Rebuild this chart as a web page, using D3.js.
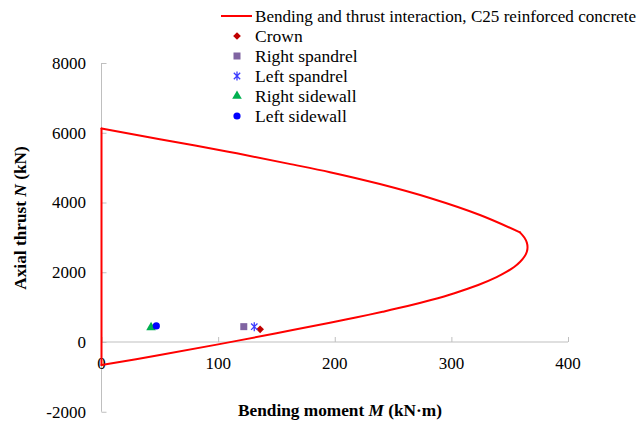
<!DOCTYPE html>
<html><head><meta charset="utf-8">
<script src="https://cdn.jsdelivr.net/npm/d3@7"></script>
<style>body{margin:0;background:#fff}svg{display:block}</style>
</head><body><svg id="c" width="640" height="425"></svg>
<script>
// Interaction curve (M in kN·m, N in kN): vertical leg, compression branch, nose + tension branch
const legM = [0, 0];
const legN = [-660, 6120];
const topM = [0, 50, 108.7, 160, 195.9, 238.7, 281.6, 324.5, 358.8];
const topN = [6120, 5815, 5457, 5115, 4870, 4530, 4130, 3642, 3145];
const botM = [358.8, 362.7, 364.7, 365.3, 364.7, 362.7, 359, 353.8, 347.5, 338.8, 323, 302.6, 282.5, 262.5, 241, 218, 195.9, 150, 100, 50, 0];
const botN = [3145, 2990, 2850, 2720, 2590, 2450, 2300, 2150, 2016, 1860, 1634, 1400, 1204, 1030, 866, 702, 553, 252, -68, -375, -660];
// Section points
const pointNames = ["Crown", "Right spandrel", "Left spandrel", "Right sidewall", "Left sidewall"];
const pointM = [136, 122, 131, 42.5, 47];
const pointN = [365, 440, 440, 420, 460];
const pointColors = ["#C00000", "#8064A2", "#3C3CFF", "#00B050", "#0000FF"];
const xTicks = [0, 100, 200, 300, 400];
const yTicks = [-2000, 0, 2000, 4000, 6000, 8000];
const lineLabel = "Bending and thrust interaction, C25 reinforced concrete";

const FONT = "Liberation Serif, Times New Roman, serif";
const svg = d3.select("#c");
const x = d3.scaleLinear().domain([0, 400]).range([101.5, 568]);
const y = d3.scaleLinear().domain([-2000, 8000]).range([411.75, 63]);
const axisColor = "#BFBFBF";

// Y axis
const gy = svg.append("g").attr("transform", `translate(${x(0)},0)`)
  .call(d3.axisRight(y).tickValues(yTicks).tickSize(5).tickFormat(""));
gy.selectAll("path,line").attr("stroke", axisColor);
gy.select(".domain").attr("d", `M0,${y(-2000)}V${y(8000)}`);
svg.append("g").selectAll("text").data(yTicks).join("text")
  .attr("font-family", FONT)
  .attr("x", 86).attr("y", d => y(d)).attr("dy", "0.35em").attr("text-anchor", "end")
  .attr("font-size", 17).attr("fill", "#000").text(d => d);

// X axis at N = 0
const gx = svg.append("g").attr("transform", `translate(0,${y(0)})`)
  .call(d3.axisTop(x).tickValues(xTicks).tickSize(5).tickFormat(""));
gx.selectAll("path,line").attr("stroke", axisColor);
gx.select(".domain").attr("d", `M${x(0)},0H${x(400)}`);
svg.append("g").selectAll("text").data(xTicks).join("text")
  .attr("font-family", FONT)
  .attr("x", d => x(d)).attr("y", y(0) + 27).attr("text-anchor", "middle")
  .attr("font-size", 17).attr("fill", "#000").text(d => d);

// Curve
const toPts = (ms, ns) => ms.map((m, i) => [m, ns[i]]);
const lineLin = d3.line().x(d => x(d[0])).y(d => y(d[1]));
const lineSmooth = d3.line().x(d => x(d[0])).y(d => y(d[1])).curve(d3.curveCatmullRom.alpha(0.5));
[[toPts(legM, legN), lineLin], [toPts(topM, topN), lineSmooth], [toPts(botM, botN), lineSmooth]].forEach(([pts, gen]) => {
  svg.append("path").datum(pts).attr("d", gen)
    .attr("fill", "none").attr("stroke", "#FF0000").attr("stroke-width", 2)
    .attr("stroke-linejoin", "round").attr("stroke-linecap", "round");
});

// Markers
function star(r) {
  const d = r * 0.7071;
  return `M0,${-r}V${r}M${-d},${-d}L${d},${d}M${-d},${d}L${d},${-d}`;
}
function marker(g, i, cx, cy) {
  const c = pointColors[i];
  const t = `translate(${cx},${cy})`;
  if (i === 0) g.append("path").attr("transform", t).attr("d", d3.symbol(d3.symbolDiamond2, 38)()).attr("fill", c);
  else if (i === 1) g.append("rect").attr("x", cx - 3.5).attr("y", cy - 3.5).attr("width", 7).attr("height", 7).attr("fill", c);
  else if (i === 2) g.append("path").attr("transform", t).attr("d", star(4.5)).attr("stroke", c).attr("stroke-width", 1.3).attr("fill", "none");
  else if (i === 3) g.append("path").attr("transform", t).attr("d", d3.symbol(d3.symbolTriangle, 40)()).attr("fill", c);
  else g.append("circle").attr("cx", cx).attr("cy", cy).attr("r", 3.6).attr("fill", c);
}
const gp = svg.append("g");
pointM.forEach((m, i) => marker(gp, i, x(m), y(pointN[i])));

// Legend
const lg = svg.append("g");
lg.append("line").attr("x1", 221).attr("x2", 252).attr("y1", 16).attr("y2", 16).attr("stroke", "#FF0000").attr("stroke-width", 2);
lg.append("text").attr("font-family", FONT).attr("x", 255).attr("y", 16).attr("dy", "0.35em").attr("font-size", 17)
  .attr("textLength", 381).attr("lengthAdjust", "spacingAndGlyphs").text(lineLabel);
pointNames.forEach((n, i) => {
  const yy = 36 + i * 20;
  marker(lg, i, 237, yy);
  lg.append("text").attr("font-family", FONT).attr("x", 255).attr("y", yy).attr("dy", "0.35em").attr("font-size", 17.5).text(n);
});

// Axis titles
const xt = svg.append("text").attr("font-family", FONT).attr("x", 340).attr("y", 416).attr("text-anchor", "middle")
  .attr("font-size", 17.3).attr("font-weight", "bold");
xt.append("tspan").text("Bending moment ");
xt.append("tspan").attr("font-style", "italic").text("M");
xt.append("tspan").text(" (kN·m)");
const yt = svg.append("text").attr("font-family", FONT).attr("transform", "translate(26,218) rotate(-90)").attr("text-anchor", "middle")
  .attr("font-size", 17.3).attr("font-weight", "bold");
yt.append("tspan").text("Axial thrust ");
yt.append("tspan").attr("font-style", "italic").text("N");
yt.append("tspan").text(" (kN)");
</script></body></html>
